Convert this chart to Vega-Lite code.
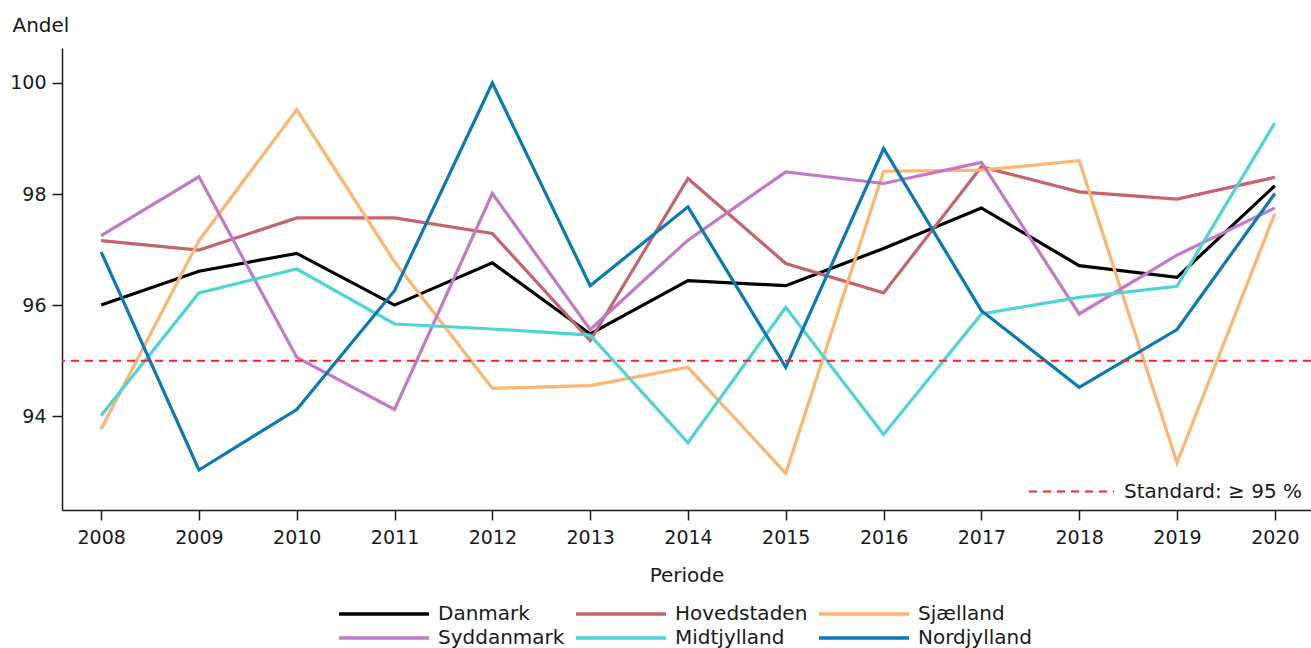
{
  "$schema": "https://vega.github.io/schema/vega-lite/v6.json",
  "width": 1249,
  "height": 462,
  "autosize": "none",
  "padding": {"left": 62, "top": 48, "right": 0, "bottom": 138},
  "config": {
    "font": "DejaVu Sans",
    "view": {"stroke": null},
    "axis": {"labelFont": "DejaVu Sans", "titleFont": "DejaVu Sans", "labelFontSize": 19, "titleFontSize": 20, "labelColor": "#1a1a1a", "titleColor": "#1a1a1a", "titleFontWeight": "normal", "domainColor": "#1a1a1a", "tickColor": "#1a1a1a", "domainWidth": 1.5, "tickWidth": 1.5, "tickSize": 10, "grid": false},
    "legend": {"labelFont": "DejaVu Sans", "labelFontSize": 20, "labelColor": "#1a1a1a", "labelLimit": 400}
  },
  "datasets": {
    "series": [
      {"Periode": 2008, "Region": "Danmark", "Andel": 96.0},
      {"Periode": 2009, "Region": "Danmark", "Andel": 96.61},
      {"Periode": 2010, "Region": "Danmark", "Andel": 96.93},
      {"Periode": 2011, "Region": "Danmark", "Andel": 96.0},
      {"Periode": 2012, "Region": "Danmark", "Andel": 96.76},
      {"Periode": 2013, "Region": "Danmark", "Andel": 95.48},
      {"Periode": 2014, "Region": "Danmark", "Andel": 96.44},
      {"Periode": 2015, "Region": "Danmark", "Andel": 96.35},
      {"Periode": 2016, "Region": "Danmark", "Andel": 97.02},
      {"Periode": 2017, "Region": "Danmark", "Andel": 97.75},
      {"Periode": 2018, "Region": "Danmark", "Andel": 96.71},
      {"Periode": 2019, "Region": "Danmark", "Andel": 96.5},
      {"Periode": 2020, "Region": "Danmark", "Andel": 98.15},
      {"Periode": 2008, "Region": "Hovedstaden", "Andel": 97.16},
      {"Periode": 2009, "Region": "Hovedstaden", "Andel": 96.99},
      {"Periode": 2010, "Region": "Hovedstaden", "Andel": 97.57},
      {"Periode": 2011, "Region": "Hovedstaden", "Andel": 97.57},
      {"Periode": 2012, "Region": "Hovedstaden", "Andel": 97.29},
      {"Periode": 2013, "Region": "Hovedstaden", "Andel": 95.36},
      {"Periode": 2014, "Region": "Hovedstaden", "Andel": 98.28},
      {"Periode": 2015, "Region": "Hovedstaden", "Andel": 96.75},
      {"Periode": 2016, "Region": "Hovedstaden", "Andel": 96.22},
      {"Periode": 2017, "Region": "Hovedstaden", "Andel": 98.49},
      {"Periode": 2018, "Region": "Hovedstaden", "Andel": 98.04},
      {"Periode": 2019, "Region": "Hovedstaden", "Andel": 97.91},
      {"Periode": 2020, "Region": "Hovedstaden", "Andel": 98.3},
      {"Periode": 2008, "Region": "Sjælland", "Andel": 93.77},
      {"Periode": 2009, "Region": "Sjælland", "Andel": 97.16},
      {"Periode": 2010, "Region": "Sjælland", "Andel": 99.52},
      {"Periode": 2011, "Region": "Sjælland", "Andel": 96.78},
      {"Periode": 2012, "Region": "Sjælland", "Andel": 94.5},
      {"Periode": 2013, "Region": "Sjælland", "Andel": 94.55},
      {"Periode": 2014, "Region": "Sjælland", "Andel": 94.88},
      {"Periode": 2015, "Region": "Sjælland", "Andel": 92.97},
      {"Periode": 2016, "Region": "Sjælland", "Andel": 98.41},
      {"Periode": 2017, "Region": "Sjælland", "Andel": 98.43},
      {"Periode": 2018, "Region": "Sjælland", "Andel": 98.6},
      {"Periode": 2019, "Region": "Sjælland", "Andel": 93.16},
      {"Periode": 2020, "Region": "Sjælland", "Andel": 97.65},
      {"Periode": 2008, "Region": "Syddanmark", "Andel": 97.25},
      {"Periode": 2009, "Region": "Syddanmark", "Andel": 98.31},
      {"Periode": 2010, "Region": "Syddanmark", "Andel": 95.06},
      {"Periode": 2011, "Region": "Syddanmark", "Andel": 94.12},
      {"Periode": 2012, "Region": "Syddanmark", "Andel": 98.01},
      {"Periode": 2013, "Region": "Syddanmark", "Andel": 95.56},
      {"Periode": 2014, "Region": "Syddanmark", "Andel": 97.17},
      {"Periode": 2015, "Region": "Syddanmark", "Andel": 98.4},
      {"Periode": 2016, "Region": "Syddanmark", "Andel": 98.19},
      {"Periode": 2017, "Region": "Syddanmark", "Andel": 98.57},
      {"Periode": 2018, "Region": "Syddanmark", "Andel": 95.84},
      {"Periode": 2019, "Region": "Syddanmark", "Andel": 96.9},
      {"Periode": 2020, "Region": "Syddanmark", "Andel": 97.75},
      {"Periode": 2008, "Region": "Midtjylland", "Andel": 94.01},
      {"Periode": 2009, "Region": "Midtjylland", "Andel": 96.22},
      {"Periode": 2010, "Region": "Midtjylland", "Andel": 96.65},
      {"Periode": 2011, "Region": "Midtjylland", "Andel": 95.66},
      {"Periode": 2012, "Region": "Midtjylland", "Andel": 95.57},
      {"Periode": 2013, "Region": "Midtjylland", "Andel": 95.46},
      {"Periode": 2014, "Region": "Midtjylland", "Andel": 93.52},
      {"Periode": 2015, "Region": "Midtjylland", "Andel": 95.96},
      {"Periode": 2016, "Region": "Midtjylland", "Andel": 93.67},
      {"Periode": 2017, "Region": "Midtjylland", "Andel": 95.84},
      {"Periode": 2018, "Region": "Midtjylland", "Andel": 96.14},
      {"Periode": 2019, "Region": "Midtjylland", "Andel": 96.34},
      {"Periode": 2020, "Region": "Midtjylland", "Andel": 99.28},
      {"Periode": 2008, "Region": "Nordjylland", "Andel": 96.96},
      {"Periode": 2009, "Region": "Nordjylland", "Andel": 93.03},
      {"Periode": 2010, "Region": "Nordjylland", "Andel": 94.12},
      {"Periode": 2011, "Region": "Nordjylland", "Andel": 96.26},
      {"Periode": 2012, "Region": "Nordjylland", "Andel": 100.0},
      {"Periode": 2013, "Region": "Nordjylland", "Andel": 96.35},
      {"Periode": 2014, "Region": "Nordjylland", "Andel": 97.77},
      {"Periode": 2015, "Region": "Nordjylland", "Andel": 94.88},
      {"Periode": 2016, "Region": "Nordjylland", "Andel": 98.82},
      {"Periode": 2017, "Region": "Nordjylland", "Andel": 95.9},
      {"Periode": 2018, "Region": "Nordjylland", "Andel": 94.52},
      {"Periode": 2019, "Region": "Nordjylland", "Andel": 95.56},
      {"Periode": 2020, "Region": "Nordjylland", "Andel": 98.01}
    ],
    "standard": [
      {"Andel": 95, "Standard": "Standard: ≥ 95 %"}
    ]
  },
  "layer": [
    {
      "data": {"name": "series"},
      "mark": {"type": "line", "strokeWidth": 3.2, "clip": true},
      "encoding": {
        "x": {
          "field": "Periode", "type": "quantitative",
          "scale": {"domain": [2007.6, 2020.37], "nice": false, "zero": false},
          "axis": {"values": [2008, 2009, 2010, 2011, 2012, 2013, 2014, 2015, 2016, 2017, 2018, 2019, 2020], "format": "d", "labelFlush": false, "labelPadding": 8, "title": "Periode", "titlePadding": 18}
        },
        "y": {
          "field": "Andel", "type": "quantitative",
          "scale": {"domain": [92.31, 100.63], "nice": false, "zero": false},
          "axis": {"values": [94, 96, 98, 100], "format": "d", "labelPadding": 6, "title": "Andel", "titleAngle": 0, "titleX": -50, "titleY": -17, "titleAlign": "left", "titleBaseline": "alphabetic"}
        },
        "color": {
          "field": "Region", "type": "nominal",
          "scale": {
            "domain": ["Danmark", "Hovedstaden", "Sjælland", "Syddanmark", "Midtjylland", "Nordjylland"],
            "range": ["#000000", "#c5646c", "#fdb56f", "#c07ac6", "#4fd4d4", "#0a79b7"]
          },
          "legend": {
            "title": null, "orient": "none", "legendX": 310, "legendY": 554,
            "columns": 3, "direction": "horizontal",
            "symbolType": "M-4.5,0H4.5", "symbolSize": 400, "symbolStrokeWidth": 3.5,
            "labelOffset": 42, "columnPadding": 4, "rowPadding": 2
          }
        }
      }
    },
    {
      "data": {"name": "standard"},
      "mark": {"type": "rule", "strokeWidth": 2, "strokeDash": [8, 6]},
      "encoding": {
        "y": {"field": "Andel", "type": "quantitative"},
        "color": {
          "field": "Standard", "type": "nominal",
          "scale": {"range": ["#ff2020"]},
          "legend": {
            "title": null, "orient": "bottom-right", "offset": 8,
            "symbolType": "stroke", "symbolSize": 7225, "symbolStrokeWidth": 2, "symbolDash": [8, 6],
            "labelOffset": 9
          }
        }
      }
    }
  ],
  "resolve": {"scale": {"color": "independent"}}
}
